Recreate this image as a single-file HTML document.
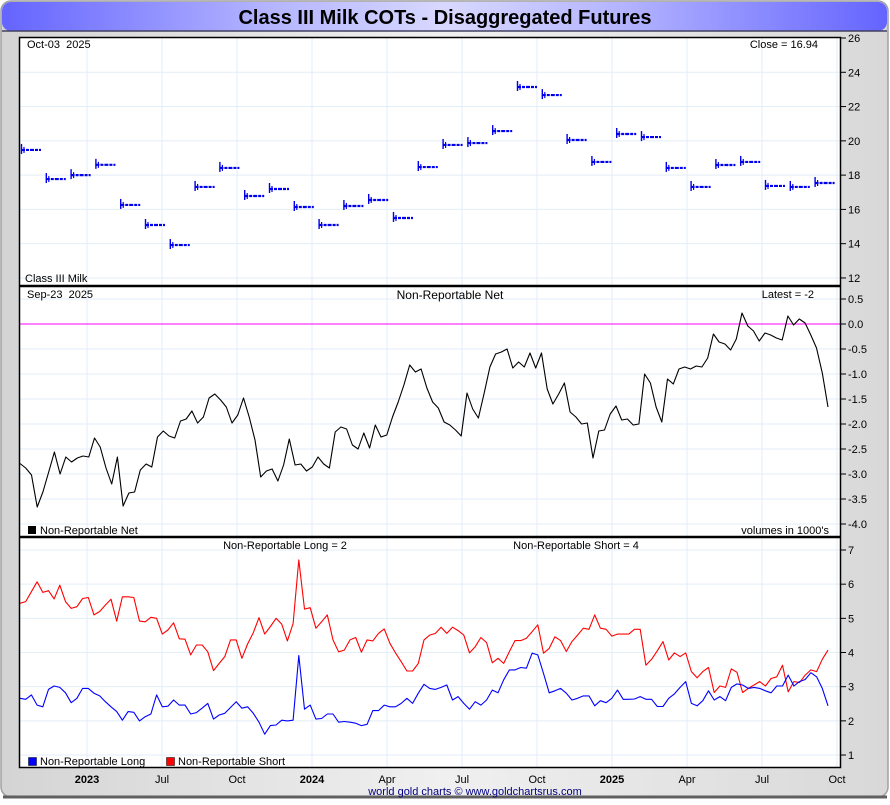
<!DOCTYPE html>
<html><head><meta charset="utf-8">
<style>
html,body{margin:0;padding:0;background:#fff;}
body{width:890px;height:800px;overflow:hidden;font-family:"Liberation Sans",sans-serif;}
svg text{font-family:"Liberation Sans",sans-serif;white-space:pre;}
</style></head>
<body>
<svg id="chart" width="890" height="800" viewBox="0 0 890 800" xmlns="http://www.w3.org/2000/svg">
<defs>
<linearGradient id="tg" x1="0" x2="1" y1="0" y2="0">
<stop offset="0" stop-color="#6464ff"/><stop offset="0.3" stop-color="#b4b4ff"/><stop offset="0.5" stop-color="#d8d8ff"/><stop offset="0.7" stop-color="#b4b4ff"/><stop offset="1" stop-color="#6464ff"/>
</linearGradient>
<linearGradient id="bg" x1="0" x2="1" y1="0" y2="0">
<stop offset="0" stop-color="#d4d4d4"/><stop offset="0.5" stop-color="#f0f0f0"/><stop offset="1" stop-color="#d8d8d8"/>
</linearGradient>
</defs>
<rect x="1" y="1" width="887" height="796" rx="10" fill="url(#bg)" stroke="#a0a0a0" stroke-width="1.5"/>
<path d="M3 797 L887 797" stroke="#606060" stroke-width="3"/>
<rect x="2" y="2" width="885" height="29" rx="9" fill="url(#tg)"/>
<line x1="2" y1="31" x2="887" y2="31" stroke="#404060" stroke-width="1.5"/>
<text x="445" y="24" text-anchor="middle" font-size="20" font-weight="bold" fill="#000">Class III Milk COTs - Disaggregated Futures</text>
<rect x="19.5" y="37.5" width="821" height="730" fill="#fff"/>
<g id="grid"></g>
<g id="marks"></g>
<rect x="19.5" y="37.5" width="821" height="730" fill="none" stroke="#000" stroke-width="1.5"/>
<line x1="19" y1="286" x2="841" y2="286" stroke="#000" stroke-width="2.5"/>
<line x1="19" y1="537" x2="841" y2="537" stroke="#000" stroke-width="2.5"/>
<g id="axes"></g>
<text x="27" y="48" font-size="11">Oct-03  2025</text>
<text x="818" y="48" font-size="11" text-anchor="end">Close = 16.94</text>
<text x="25" y="282" font-size="11">Class III Milk</text>
<text x="27" y="298" font-size="11">Sep-23  2025</text>
<text x="450" y="299" font-size="12" text-anchor="middle">Non-Reportable Net</text>
<text x="814" y="298" font-size="11" text-anchor="end">Latest = -2</text>
<rect x="28" y="526" width="8" height="8" fill="#000"/>
<text x="40" y="534" font-size="11">Non-Reportable Net</text>
<text x="829" y="534" font-size="11" text-anchor="end">volumes in 1000's</text>
<text x="285" y="549" font-size="11" text-anchor="middle">Non-Reportable Long = 2</text>
<text x="576" y="549" font-size="11" text-anchor="middle">Non-Reportable Short = 4</text>
<rect x="28.5" y="757.5" width="8" height="8" fill="#0000ff" stroke="#000" stroke-width="0.5"/>
<text x="40" y="765" font-size="11">Non-Reportable Long</text>
<rect x="166.5" y="757.5" width="8" height="8" fill="#ff0000" stroke="#000" stroke-width="0.5"/>
<text x="178" y="765" font-size="11">Non-Reportable Short</text>
<text x="475" y="795" font-size="11" fill="#000080" text-anchor="middle">world gold charts © www.goldchartsrus.com</text>
</svg>
<script>
// ---- data ----
const xLabels = ["2023","Jul","Oct","2024","Apr","Jul","Oct","2025","Apr","Jul","Oct"];
const xLabelBold = [true,false,false,true,false,false,false,true,false,false,false];
const priceTicks = [12,14,16,18,20,22,24,26];
const netTicks = [0.5,0.0,-0.5,-1.0,-1.5,-2.0,-2.5,-3.0,-3.5,-4.0];
const volTicks = [1,2,3,4,5,6,7];
const monthlyPrice = [19.47,17.77,18.0,18.6,16.26,15.09,13.92,17.31,18.42,16.78,17.19,16.14,15.09,16.2,16.55,15.5,18.47,19.76,19.87,20.57,23.14,22.67,20.05,18.77,20.4,20.22,18.42,17.31,18.59,18.77,17.37,17.31,17.54];
const netValues = [-2.79,-2.88,-3.02,-3.66,-3.36,-2.96,-2.56,-3.0,-2.66,-2.76,-2.68,-2.64,-2.66,-2.28,-2.46,-2.88,-3.2,-2.66,-3.64,-3.38,-3.36,-2.92,-2.8,-2.86,-2.26,-2.14,-2.24,-2.28,-1.94,-1.9,-1.74,-1.98,-1.86,-1.48,-1.4,-1.52,-1.66,-1.98,-1.82,-1.48,-1.86,-2.32,-3.06,-2.94,-2.9,-3.14,-2.82,-2.3,-2.82,-2.8,-2.94,-2.86,-2.66,-2.8,-2.88,-2.16,-2.06,-2.1,-2.42,-2.5,-2.18,-2.48,-2.02,-2.26,-2.22,-1.86,-1.56,-1.22,-0.82,-0.96,-0.9,-1.28,-1.56,
-1.68,-1.96,-2.02,-2.12,-2.24,-1.38,-1.7,-1.88,-1.38,-0.86,-0.6,-0.56,-0.5,-0.88,-0.76,-0.86,-0.58,-0.88,-0.58,-1.3,-1.6,-1.4,-1.18,-1.76,-1.86,-2.0,-1.98,-2.68,-2.14,-2.12,-1.8,-1.64,-1.92,-1.9,-2.02,-2.0,-1.0,-1.18,-1.66,-1.96,-1.1,-1.2,-0.9,-0.86,-0.9,-0.84,-0.86,-0.68,-0.2,-0.36,-0.4,-0.52,-0.3,0.22,-0.04,-0.14,-0.34,-0.18,-0.22,-0.28,-0.32,0.16,-0.02,0.1,0.02,-0.22,-0.48,-0.98,-1.66];
const shortValues = [5.44,5.49,5.78,6.07,5.76,5.81,5.57,5.97,5.49,5.29,5.34,5.58,5.61,5.10,5.2,5.39,5.56,4.92,5.63,5.63,5.61,4.92,4.9,5.03,5.0,4.54,4.66,4.87,4.4,4.39,3.93,4.22,4.22,4.02,3.47,3.68,3.88,4.37,4.37,3.83,4.25,4.58,5.02,4.54,4.76,5.0,4.83,4.34,4.85,6.71,5.27,5.31,4.71,4.9,5.1,4.37,4.02,4.07,4.37,4.44,4.01,4.37,4.34,4.56,4.69,4.27,3.99,3.73,3.46,3.46,3.68,4.37,4.51,
4.56,4.74,4.56,4.74,4.64,4.51,3.99,4.17,4.44,4.29,3.7,3.83,3.68,4.03,4.35,4.35,4.42,4.61,4.81,3.98,4.12,4.46,4.35,4.03,4.32,4.51,4.71,4.68,5.1,4.71,4.68,4.48,4.54,4.54,4.54,4.68,4.68,3.63,3.8,4.05,4.32,3.78,3.99,3.88,3.99,3.44,3.26,3.44,3.56,2.83,3.02,2.98,3.52,3.42,2.83,2.95,3.05,3.15,3.02,3.24,3.29,3.63,2.85,3.15,3.12,3.34,3.49,3.44,3.8,4.07];
const longValues = [2.66,2.63,2.76,2.46,2.41,2.92,3.02,2.98,2.82,2.53,2.66,2.95,2.95,2.81,2.73,2.56,2.41,2.27,2.02,2.27,2.25,2.0,2.12,2.2,2.76,2.41,2.43,2.61,2.46,2.46,2.2,2.24,2.37,2.51,2.05,2.17,2.22,2.39,2.56,2.37,2.41,2.22,1.96,1.61,1.86,1.88,2.02,2.0,2.02,3.91,2.34,2.46,2.05,2.07,2.2,2.2,1.96,1.98,1.96,1.93,1.86,1.9,2.3,2.3,2.46,2.41,2.41,2.51,2.66,2.51,2.81,3.07,2.95,
2.92,2.98,3.05,2.61,2.71,2.51,2.34,2.56,2.46,2.61,2.9,2.82,3.2,3.49,3.49,3.56,3.54,3.98,3.93,3.39,2.82,2.88,2.95,2.81,2.61,2.66,2.73,2.73,2.44,2.59,2.53,2.66,2.9,2.63,2.63,2.64,2.71,2.63,2.63,2.42,2.42,2.66,2.79,2.98,3.15,2.51,2.44,2.59,2.88,2.61,2.71,2.59,2.98,3.08,3.05,2.95,2.98,2.95,2.88,2.82,3.02,3.02,3.34,3.02,3.15,3.21,3.41,3.29,2.95,2.44];

// ---- axis functions ----
const X0 = 20, X1 = 828;
const qx = i => 87 + 75 * i;
const wx = (i, n) => X0 + (X1 - X0) * i / (n - 1);
const mx = i => 20 + 24.8 * i;
const yPrice = v => 38 + (26 - v) * 17.14;
const yNet = v => 324 - 50 * v;
const yVol = v => 550 - (v - 7) * 34.17;
const NS = "http://www.w3.org/2000/svg";
function mk(tag, attrs, parent) {
  const e = document.createElementNS(NS, tag);
  for (const k in attrs) e.setAttribute(k, attrs[k]);
  parent.appendChild(e);
  return e;
}
const grid = document.getElementById('grid');
const marks = document.getElementById('marks');
const axes = document.getElementById('axes');
const gc = "#e2eef8";

xLabels.forEach((t, i) => {
  const gl = mk('line', {x1: qx(i), x2: qx(i), y1: 38, y2: 767, stroke: gc, 'stroke-width': 1}, grid);
  
  
  const tx = mk('text', {x: qx(i), y: 783, 'font-size': 11, 'text-anchor': 'middle', 'font-weight': xLabelBold[i] ? 'bold' : 'normal'}, axes);
  tx.textContent = t;
  
  
});
function yAxis(ticks, fy, fmt, top, bot) {
  ticks.forEach(v => {
    const y = fy(v);
    if (y > top + 2 && y < bot - 2) {
      const gl = mk('line', {x1: 20, x2: 840, y1: y, y2: y, stroke: gc, 'stroke-width': 1}, grid);
      
      
    }
    mk('line', {x1: 840, x2: 846, y1: y, y2: y, stroke: '#000', 'stroke-width': 1}, axes);
    const tx = mk('text', {x: 848, y: y + 4, 'font-size': 11}, axes);
    tx.textContent = fmt(v);
    
    
  });
}
yAxis(priceTicks, yPrice, v => String(v), 37, 286);
yAxis(netTicks, yNet, v => v.toFixed(1), 286, 537);
yAxis(volTicks, yVol, v => String(v), 537, 768);

monthlyPrice.forEach((v, i) => {
  const x = mx(i), y = yPrice(v);
  const g = mk('g', {}, marks);
  
  
  mk('line', {x1: x + 1.5, x2: x + 1.5, y1: y - 6, y2: y + 4, stroke: '#0000ee', 'stroke-width': 1.4}, g);
  mk('line', {x1: x + 4, x2: x + 4, y1: y - 3, y2: y + 3, stroke: '#0000ee', 'stroke-width': 1.2}, g);
  mk('line', {x1: x + 1, x2: x + 21, y1: y, y2: y, stroke: '#0000ee', 'stroke-width': 2.2, 'stroke-dasharray': '4 1 3 1'}, g);
});

const zl = mk('line', {x1: 20, x2: 840, y1: yNet(0), y2: yNet(0), stroke: '#ff00ff', 'stroke-width': 1}, marks);



function series(vals, fy, color, name) {
  const n = vals.length;
  const d = vals.map((v, i) => (i ? 'L' : 'M') + wx(i, n).toFixed(1) + ' ' + fy(v).toFixed(1)).join(' ');
  const p = mk('path', {d: d, fill: 'none', stroke: color, 'stroke-width': 1.1, 'stroke-linejoin': 'round'}, marks);
  
  
}
series(netValues, yNet, '#000', 'net-line');
series(shortValues, yVol, '#ff0000', 'short-line');
series(longValues, yVol, '#0000ff', 'long-line');
</script>
</body></html>
